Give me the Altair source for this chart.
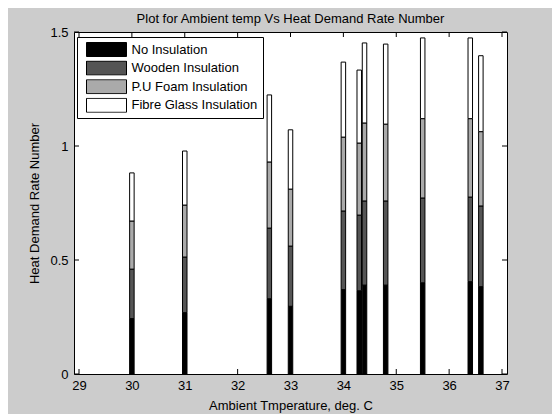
import altair as alt
import pandas as pd

# ---- data ----
temps = [30, 31, 32.6, 33, 34, 34.3, 34.4, 34.8, 35.5, 36.4, 36.6]
series = ["No Insulation", "Wooden Insulation", "P.U Foam Insulation", "Fibre Glass Insulation"]
no_insulation = [0.243, 0.269, 0.330, 0.297, 0.370, 0.365, 0.390, 0.390, 0.400, 0.405, 0.383]
wooden = [0.217, 0.244, 0.310, 0.264, 0.345, 0.332, 0.369, 0.369, 0.372, 0.371, 0.354]
pu_foam = [0.211, 0.228, 0.290, 0.250, 0.324, 0.316, 0.342, 0.337, 0.348, 0.344, 0.326]
fibre_glass = [0.211, 0.237, 0.294, 0.260, 0.329, 0.320, 0.351, 0.351, 0.354, 0.354, 0.333]
colors = ["#000000", "#555555", "#aaaaaa", "#ffffff"]
x_ticks = [29, 30, 31, 32, 33, 34, 35, 36, 37]
y_ticks = [0, 0.5, 1, 1.5]

rows = []
for k, (name, vals) in enumerate(zip(series, [no_insulation, wooden, pu_foam, fibre_glass])):
    for t, v in zip(temps, vals):
        rows.append({"temp": t, "series": name, "value": v, "order": k})
df = pd.DataFrame(rows)
xt = pd.DataFrame({"temp": x_ticks})
yt = pd.DataFrame({"value": y_ticks})

W, H = 433, 342
FONT = "Liberation Sans"
TL = 5

xscale = alt.Scale(domain=[29, 37], nice=False, zero=False)
yscale = alt.Scale(domain=[0, 1.5], nice=False)
xaxis = alt.Axis(values=x_ticks, title="Ambient Tmperature, deg. C", format="d")
yaxis = alt.Axis(values=y_ticks, title="Heat Demand Rate Number", format="~g")

bars = alt.Chart(df).mark_bar(size=4.5, stroke="black", strokeWidth=1).encode(
    x=alt.X("temp:Q", scale=xscale, axis=xaxis),
    y=alt.Y("value:Q", scale=yscale, axis=yaxis, stack="zero"),
    color=alt.Color(
        "series:N",
        scale=alt.Scale(domain=series, range=colors),
        legend=alt.Legend(
            title=None,
            orient="none",
            legendX=3,
            legendY=5,
            fillColor="white",
            strokeColor="black",
            padding=5,
            symbolType="M-1,-0.35H1V0.35H-1Z",
            symbolSize=1600,
            symbolStrokeColor="black",
            symbolStrokeWidth=1,
            symbolOpacity=1,
            clipHeight=15,
            rowPadding=3.6,
            symbolOffset=4,
            labelOffset=4.5,
            labelFont=FONT,
            labelFontSize=13,
            labelColor="black",
        ),
    ),
    order=alt.Order("order:Q", sort="ascending"),
)

bottom_ticks = alt.Chart(xt).mark_rule(color="black", strokeWidth=1).encode(
    x=alt.X("temp:Q", scale=xscale, axis=xaxis),
    y=alt.value(H), y2=alt.value(H - TL),
)
top_ticks = alt.Chart(xt).mark_rule(color="black", strokeWidth=1).encode(
    x=alt.X("temp:Q", scale=xscale, axis=xaxis),
    y=alt.value(0), y2=alt.value(TL),
)
left_ticks = alt.Chart(yt).mark_rule(color="black", strokeWidth=1).encode(
    y=alt.Y("value:Q", scale=yscale, axis=yaxis),
    x=alt.value(0), x2=alt.value(TL),
)
right_ticks = alt.Chart(yt).mark_rule(color="black", strokeWidth=1).encode(
    y=alt.Y("value:Q", scale=yscale, axis=yaxis),
    x=alt.value(W), x2=alt.value(W - TL),
)

chart = alt.layer(bars, bottom_ticks, top_ticks, left_ticks, right_ticks).properties(
    width=W,
    height=H,
    title=alt.TitleParams(
        "Plot for Ambient temp Vs Heat Demand Rate Number",
        font=FONT, fontSize=13, fontWeight="normal", color="black",
        anchor="middle", frame="group", offset=0,
    ),
    background="#cccccc",
    padding={"left": 66, "top": 24, "right": 45, "bottom": 40},
    autosize=alt.AutoSizeParams(type="none"),
).configure_view(
    fill="white", stroke="black", strokeWidth=1,
).configure_axis(
    domain=False, ticks=False, grid=False,
    labelFont=FONT, labelFontSize=13, labelColor="black",
    titleFont=FONT, titleFontSize=13, titleFontWeight="normal", titleColor="black",
).configure_axisX(
    labelPadding=5, titlePadding=7,
).configure_axisY(
    labelPadding=6, titlePadding=8,
)

chart.save("out.html", embed_options={"renderer": "svg", "actions": False})
